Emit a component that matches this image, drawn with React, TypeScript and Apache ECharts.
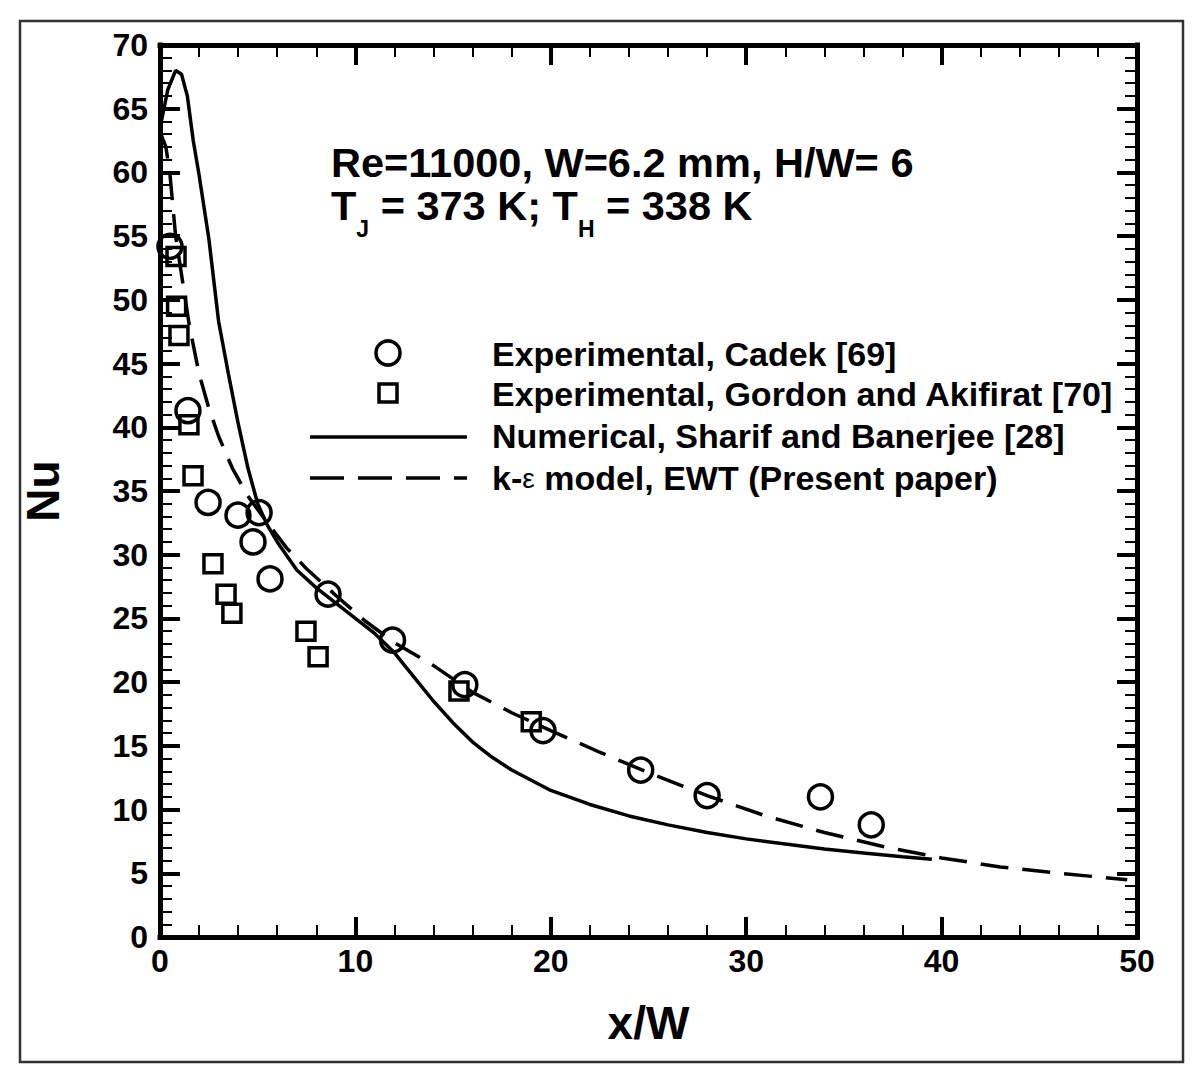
import React, { useEffect, useRef } from 'react';
import * as echarts from 'echarts';

const FONT = '"Liberation Sans", Arial, Helvetica, sans-serif';

// Experimental, Cadek [69]
const cadekX = [0.51, 1.43, 2.46, 3.99, 5.07, 4.76, 5.63, 8.6, 11.9, 15.6, 19.6, 24.6, 28.0, 33.8, 36.4];
const cadekNu = [54.2, 41.3, 34.1, 33.1, 33.3, 31.0, 28.1, 26.9, 23.3, 19.8, 16.2, 13.1, 11.1, 11.0, 8.8];

// Experimental, Gordon and Akifirat [70]
const gordonX = [0.82, 0.85, 0.97, 1.48, 1.69, 2.71, 3.38, 3.68, 7.47, 8.09, 15.3, 19.0];
const gordonNu = [53.4, 49.5, 47.2, 40.2, 36.2, 29.3, 26.9, 25.4, 24.0, 22.0, 19.3, 16.9];

// Numerical, Sharif and Banerjee [28]
const sharifX = [0, 0.4, 0.8, 1.1, 1.4, 1.7, 2.0, 2.5, 3.0, 3.5, 4.0, 4.5, 5.0, 5.5, 6.0, 7.0, 8.0, 9.0, 10, 11, 12, 13, 14, 15, 16, 17, 18, 20, 22, 24, 26, 28, 30, 32, 34, 36, 38, 39.5];
const sharifNu = [63.5, 66.5, 68, 67.7, 66, 62.5, 59.8, 54.8, 48.3, 44.2, 40.3, 36.8, 34.0, 32.3, 31.0, 28.8, 27.4, 26.2, 25.0, 23.8, 22.3, 20.4, 18.5, 16.8, 15.3, 14.1, 13.1, 11.5, 10.4, 9.5, 8.8, 8.2, 7.7, 7.3, 6.9, 6.6, 6.3, 6.1];

// k-epsilon model, EWT (Present paper)
const kepsX = [0, 0.3, 0.5, 0.65, 0.8, 1.0, 1.2, 1.5, 2.0, 2.5, 3.0, 3.7, 4.5, 5.5, 6.5, 7.5, 9, 10.5, 12, 14, 16, 18, 20, 22.5, 25, 28, 31, 34, 37, 40, 43, 46, 49.5];
const kepsNu = [63.2, 62, 60, 57.5, 55, 53, 51, 48, 44.2, 41.5, 39.3, 36.8, 34.6, 32.5, 30.5, 28.9, 26.8, 24.8, 23.1, 21.3, 19.2, 17.6, 16.2, 14.5, 12.9, 11.1, 9.5, 8.2, 7.1, 6.2, 5.5, 5.0, 4.5];

const legendLabels = [
  'Experimental, Cadek [69]',
  'Experimental, Gordon and Akifirat [70]',
  'Numerical, Sharif and Banerjee [28]',
];

const zip = (xs: number[], ys: number[]) => xs.map((x, i) => [x, ys[i]]);

function textWidth(text: string, font: string): number {
  const ctx = document.createElement('canvas').getContext('2d');
  if (!ctx) return text.length * 20;
  ctx.font = font;
  return ctx.measureText(text).width;
}

export default function App() {
  const ref = useRef<HTMLDivElement>(null);

  useEffect(() => {
    if (!ref.current) return;
    const chart = echarts.init(ref.current, undefined, { renderer: 'svg' });

    const axisLine = { show: true, onZero: false, lineStyle: { color: '#000', width: 5, cap: 'square' } };
    const axisTick = { show: true, inside: true, length: 20, lineStyle: { color: '#000', width: 4 } };
    const minorTick = { show: true, splitNumber: 5, length: 12, lineStyle: { color: '#000', width: 2 } };
    const labelStyle = { fontSize: 32, fontWeight: 'bold', color: '#000', fontFamily: FONT };

    const MAIN = 41.5;
    const SUB = 23;
    const mainFont = `bold ${MAIN}px ${FONT}`;
    const subFont = `bold ${SUB}px ${FONT}`;
    const x0 = 331;
    const wT = textWidth('T', mainFont);
    const xJ = x0 + wT;
    const wJ = textWidth('J', subFont);
    const seg1 = ' = 373 K; T';
    const xSeg1 = xJ + wJ;
    const wSeg1 = textWidth(seg1, mainFont);
    const xH = xSeg1 + wSeg1;
    const wH = textWidth('H', subFont);
    const xSeg2 = xH + wH;

    const mainText = (text: string, x: number, y: number) => ({
      type: 'text', x, y,
      style: { text, fontSize: MAIN, lineHeight: 32, fontWeight: 'bold', fontFamily: FONT, fill: '#000', align: 'left', verticalAlign: 'middle' },
    });
    const subText = (text: string, x: number, y: number) => ({
      type: 'text', x, y,
      style: { text, fontSize: SUB, lineHeight: 16, fontWeight: 'bold', fontFamily: FONT, fill: '#000', align: 'left', verticalAlign: 'middle' },
    });
    const legText = (text: string, y: number) => ({
      type: 'text', x: 492, y,
      style: { text, fontSize: 34, fontWeight: 'bold', fontFamily: FONT, fill: '#000', align: 'left', verticalAlign: 'middle' },
    });

    const option = {
      animation: false,
      backgroundColor: '#fff',
      grid: { left: 160, right: 63, top: 45, bottom: 146, containLabel: false },
      xAxis: [
        {
          type: 'value', min: 0, max: 50, interval: 10, position: 'bottom',
          axisLine, axisTick, minorTick,
          axisLabel: { ...labelStyle, margin: 8 },
          splitLine: { show: false },
          name: 'x/W', nameLocation: 'middle', nameGap: 63,
          nameTextStyle: { fontSize: 46, fontWeight: 'bold', color: '#000', fontFamily: FONT },
        },
        {
          type: 'value', min: 0, max: 50, interval: 10, position: 'top',
          axisLine, axisTick, minorTick,
          axisLabel: { show: false }, splitLine: { show: false },
        },
      ],
      yAxis: [
        {
          type: 'value', min: 0, max: 70, interval: 5, position: 'left',
          axisLine, axisTick, minorTick,
          axisLabel: { ...labelStyle, margin: 12 },
          splitLine: { show: false },
          name: 'Nu', nameLocation: 'middle', nameGap: 94, nameRotate: 90,
          nameTextStyle: { fontSize: 46, fontWeight: 'bold', color: '#000', fontFamily: FONT },
        },
        {
          type: 'value', min: 0, max: 70, interval: 5, position: 'right',
          axisLine, axisTick, minorTick,
          axisLabel: { show: false }, splitLine: { show: false },
        },
      ],
      series: [
        {
          name: 'Numerical, Sharif and Banerjee [28]', type: 'line', xAxisIndex: 0, yAxisIndex: 0,
          data: zip(sharifX, sharifNu), showSymbol: false, symbol: 'none',
          lineStyle: { color: '#000', width: 3.5 }, z: 3, emphasis: { disabled: true },
        },
        {
          name: 'k-ε model, EWT (Present paper)', type: 'line', xAxisIndex: 0, yAxisIndex: 0,
          data: zip(kepsX, kepsNu), showSymbol: false, symbol: 'none',
          lineStyle: { color: '#000', width: 3.5, type: [28, 14] }, z: 3, emphasis: { disabled: true },
        },
        {
          name: 'Experimental, Cadek [69]', type: 'scatter', xAxisIndex: 0, yAxisIndex: 0,
          data: zip(cadekX, cadekNu), symbol: 'circle', symbolSize: 24,
          itemStyle: { color: 'rgba(0,0,0,0)', borderColor: '#000', borderWidth: 3.5, opacity: 1 }, z: 4,
          emphasis: { disabled: true },
        },
        {
          name: 'Experimental, Gordon and Akifirat [70]', type: 'scatter', xAxisIndex: 0, yAxisIndex: 0,
          data: zip(gordonX, gordonNu), symbol: 'rect', symbolSize: 18,
          itemStyle: { color: 'rgba(0,0,0,0)', borderColor: '#000', borderWidth: 3.5, opacity: 1 }, z: 4,
          emphasis: { disabled: true },
        },
      ],
      graphic: [
        {
          type: 'rect', shape: { x: 20, y: 21, width: 1163, height: 1041 },
          style: { fill: 'none', stroke: '#333', lineWidth: 2.5 }, z: -1, silent: true,
        },
        mainText('Re=11000, W=6.2 mm, H/W= 6', x0, 162),
        mainText('T', x0, 205),
        subText('J', xJ, 229),
        mainText(seg1, xSeg1, 205),
        subText('H', xH, 229),
        mainText(' = 338 K', xSeg2, 205),
        { type: 'circle', shape: { cx: 388, cy: 353, r: 12 }, style: { fill: 'none', stroke: '#000', lineWidth: 3.5 } },
        { type: 'rect', shape: { x: 379, y: 384, width: 18, height: 18 }, style: { fill: 'none', stroke: '#000', lineWidth: 3.5 } },
        { type: 'line', shape: { x1: 310, y1: 437, x2: 467, y2: 437 }, style: { stroke: '#000', lineWidth: 3.5 } },
        { type: 'line', shape: { x1: 310, y1: 478, x2: 467, y2: 478 }, style: { stroke: '#000', lineWidth: 3.5, lineDash: [34, 14] } },
        legText(legendLabels[0], 354),
        legText(legendLabels[1], 394),
        legText(legendLabels[2], 436),
        {
          type: 'text', x: 492, y: 478,
          style: {
            text: '{a|k-}{e|ε}{a| model, EWT (Present paper)}',
            fill: '#000', align: 'left', verticalAlign: 'middle',
            rich: {
              a: { fontSize: 34, fontWeight: 'bold', fontFamily: FONT, fill: '#000' },
              e: { fontSize: 28, fontWeight: 'normal', fontFamily: FONT, fill: '#000' },
            },
          },
        },
      ],
    };

    chart.setOption(option as any);
    return () => chart.dispose();
  }, []);

  return (
    <div
      ref={ref}
      style={{ position: 'absolute', left: 0, top: 0, width: 1200, height: 1083, background: '#fff' }}
    />
  );
}
